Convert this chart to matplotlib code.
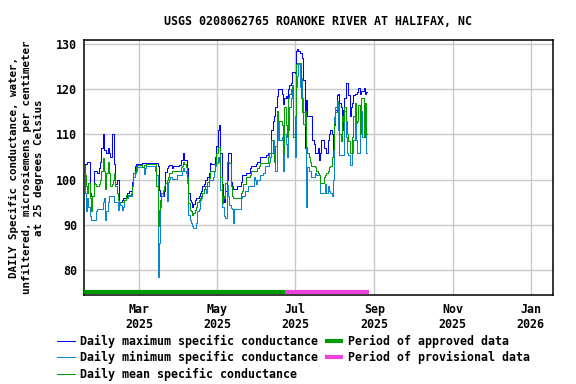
import matplotlib
matplotlib.use("Agg")
import matplotlib.pyplot as plt
import matplotlib.dates as mdates
import pandas as pd
import numpy as np

plt.rcParams['font.family'] = ['DejaVu Sans Mono']
plt.rcParams['font.weight'] = 'bold'

start_date = "2025-01-17"

daily_max = [
    103, 103.5, 103.5, 104, 104, 97, 96.5, 96.5, 102, 102,
    102, 101.5, 102.5, 104, 107, 110, 106.5, 106.5, 106, 107,
    106, 105, 110, 110, 103.5, 99, 100, 100, 95, 95,
    95.5, 96, 96, 96, 97, 97, 97.5, 97.5, 99.5, 101.5,
    103, 103.5, 103.5, 103.5, 103.5, 103.5, 103.8, 103.8, 103.8, 103.8,
    103.8, 103.8, 103.8, 103.8, 103.8, 103.8, 103.8, 103.8, 103, 97.7,
    96.5, 96.5, 96.5, 97.5, 101.7, 102.5, 103, 103.3, 103.3, 102.5,
    103, 103, 103, 103, 103, 103.2, 104.3, 104.3, 106, 104.3,
    104.3, 102.5, 97, 95.5, 95, 94, 94.7, 95.5, 96, 96,
    96.3, 97, 97.5, 98.5, 99, 100, 100, 100.5, 101.5, 103.6,
    103.5, 103.5, 103.5, 105, 107.5, 111, 112, 106, 99, 96,
    95, 97.5, 100, 106, 106, 99.5, 98.5, 98, 98, 98,
    98.5, 98.5, 98.5, 99.5, 101, 101, 101, 101.5, 101.5, 101.5,
    102.5, 103, 103, 103, 103, 103.5, 104, 104, 105, 105,
    105, 105, 105, 105.5, 106, 106, 106, 111, 113, 114,
    116, 118.5, 120, 120, 120, 119, 116.7, 118, 118.5, 118,
    120, 121, 121.5, 123.8, 123.8, 123.5, 128.5, 129, 128.5, 128,
    128, 127, 122, 107, 117.6, 114, 114, 114, 114, 108.8,
    108, 106, 106, 107, 104.3, 106, 108.8, 108.8, 107, 107,
    106, 108.8, 110, 111, 110, 106, 112, 115.4, 118.7, 119,
    117, 116, 111, 115.4, 118, 121.4, 121.4, 118.7, 114, 116,
    117, 118.7, 119, 119, 119.5, 120.2, 119, 119.7, 119.7, 120.2,
    119, 119.5,
]

daily_min = [
    103, 97, 93, 96, 94, 92, 91, 91, 91, 91,
    93, 93.5, 93.5, 93.5, 93.5, 95, 96, 91, 93, 95,
    96.3, 96.3, 96.3, 96.3, 95, 95, 95, 93.4, 95, 94.5,
    93.4, 94, 95.5, 96, 96, 96.3, 96.3, 96.3, 98.5, 100.7,
    101.5, 102, 102.8, 102.8, 102.8, 102.8, 102.8, 101.2, 102.5, 103,
    103, 103, 103, 103, 103, 103, 102, 101, 78.4, 86,
    94, 96.3, 97.7, 98.5, 99.2, 95.2, 99.5, 100.2, 100.7, 100.2,
    100.2, 100.2, 100.2, 101, 101, 101, 101, 102, 102.5, 102,
    101.4, 99.2, 92.3, 91, 90.4, 89.7, 89.3, 89.3, 90.4, 93,
    93.5, 95.5, 96, 97, 98, 98, 97, 98.5, 100, 100,
    100, 100.7, 102, 103, 103.6, 105, 104, 97.7, 94, 94,
    92, 91.5, 98.8, 96.3, 94.5, 93.8, 93.5, 90.4, 93.5, 93.5,
    93.5, 93.5, 93.5, 96, 96.3, 96.3, 97.5, 97.5, 97.5, 98.5,
    98.5, 98.5, 98.5, 100.5, 100, 99, 100, 100, 101, 101,
    101.5, 101.5, 103, 103, 103, 104, 105, 106, 108.7, 106,
    102, 108.7, 113, 108.7, 108.7, 109.4, 102, 110, 108, 105,
    111, 116, 118, 121, 110, 105, 120.4, 123, 125.5, 120.4,
    122.6, 118, 115, 112, 94, 102.8, 102, 102, 100.7, 100.7,
    100.7, 101.5, 101, 101, 101, 97, 97, 97, 97, 99,
    97, 98.5, 97.5, 97, 96.3, 100, 113.8, 116, 117.4, 111,
    105.4, 105.4, 105.4, 105.4, 115.3, 109.4, 106, 105.4, 103.3, 103.3,
    106, 108.7, 113.8, 108.7, 106, 106, 113.8, 115.3, 109.4, 112,
    115, 106,
]

daily_mean = [
    103, 101, 98.5, 97, 99.2, 96, 93, 96.3, 99.2, 99,
    98.5, 98.5, 99, 100, 102, 104.7, 102, 98, 101.4, 104,
    101.4, 98.5, 99, 100, 101.4, 98.5, 97, 95.5, 95, 95,
    95, 95, 95.5, 96.6, 96.6, 96.6, 96.6, 97, 98.5, 101.4,
    102, 102.8, 103.2, 103.2, 103.2, 103.2, 102.8, 103.2, 103.2, 103.5,
    103.5, 103.5, 103.5, 103.5, 103.5, 103.5, 103.5, 98.5, 89.7, 93.4,
    95.5, 97, 97.5, 98.5, 99.2, 100, 100.7, 101.4, 101.4, 102,
    102, 102, 102, 102, 102, 102, 102.8, 103, 104, 103.5,
    102.8, 100.7, 94.8, 93.4, 93, 92.3, 92.7, 93.4, 94, 95,
    95.5, 96, 96.5, 97, 98, 98.5, 98.5, 99.6, 100.3, 102,
    102, 102, 102, 103.5, 105.8, 107.2, 107.2, 100.7, 94.8, 96.3,
    96, 99.2, 104, 104, 103.6, 98.5, 96.3, 96, 96, 96,
    96, 96, 96, 97, 97.5, 99, 99, 100.5, 100.5, 100.5,
    101, 102, 102, 102, 102, 102, 102.5, 103, 103.6, 103.6,
    103.6, 103.6, 103.6, 103.6, 105, 106, 106, 108.7, 106, 104,
    107.5, 115.3, 113, 113, 113, 112, 105.8, 116, 112, 109.4,
    118, 119, 120, 120.4, 109.4, 114, 125.5, 125.8, 125.8, 125.8,
    118, 115, 112.3, 115.3, 107.2, 105.8, 105, 104, 103, 103,
    103, 102.9, 102, 101.5, 101, 99.2, 99.2, 99.2, 100.5, 101,
    101.5, 102, 102.9, 103, 105, 106.5, 112.5, 115, 117, 117,
    110, 108.5, 114, 113, 116, 113, 110, 108.5, 106, 106,
    109.5, 114, 117, 112.5, 113, 116.5, 110, 118, 118, 109.5,
    117, 110,
]

approved_period = ["2025-01-17", "2025-06-23"]
provisional_period = ["2025-06-23", "2025-08-28"]

title = "USGS 0208062765 ROANOKE RIVER AT HALIFAX, NC"
ylabel = "DAILY Specific conductance, water,\nunfiltered, microsiemens per centimeter\nat 25 degrees Celsius"
yticks = [80, 90, 100, 110, 120, 130]

dates = pd.date_range(start_date, periods=len(daily_max), freq="D")

fig = plt.figure(figsize=(5.76, 3.84), dpi=100)
ax = fig.add_axes([84/576, 1-295/384, (553-84)/576, (295-40)/384])

fs = 8.4
ax.plot(dates, daily_max, color="#0000FF", lw=0.75, drawstyle="steps-mid",
        label="Daily maximum specific conductance", zorder=3)
ax.plot(dates, daily_min, color="#0A84CC", lw=0.75, drawstyle="steps-mid",
        label="Daily minimum specific conductance", zorder=3)
ax.plot(dates, daily_mean, color="#009E00", lw=0.75, drawstyle="steps-mid",
        label="Daily mean specific conductance", zorder=4)

bar_y = 75.25
ax.plot(pd.to_datetime(approved_period), [bar_y, bar_y], color="#009900", lw=3,
        solid_capstyle="butt", label="Period of approved data", zorder=5)
ax.plot(pd.to_datetime(provisional_period), [bar_y, bar_y], color="#EE44DD", lw=3,
        solid_capstyle="butt", label="Period of provisional data", zorder=5)

ax.set_xlim(pd.Timestamp("2025-01-17"), pd.Timestamp("2026-01-18 12:00"))
ax.set_ylim(74.5, 130.9)
ax.set_yticks(yticks)
ax.xaxis.set_major_locator(mdates.MonthLocator(bymonth=[1, 3, 5, 7, 9, 11]))
ax.xaxis.set_major_formatter(mdates.DateFormatter("%b\n%Y"))

ax.grid(True, color="#C8C8C8", lw=1.0)
ax.set_axisbelow(True)
ax.tick_params(axis="both", length=0, labelsize=fs)
ax.tick_params(axis="y", pad=5)
ax.tick_params(axis="x", pad=6)
for lab in ax.get_xticklabels() + ax.get_yticklabels():
    lab.set_fontweight("bold")
for sp in ax.spines.values():
    sp.set_linewidth(1.1)
    sp.set_color("black")

ax.set_title(title, fontsize=fs, fontweight="bold", pad=11)
ax.set_ylabel(ylabel, fontsize=7.8, fontweight="bold", linespacing=1.32)
ax.yaxis.set_label_coords(-0.085, 0.5)

handles, labels = ax.get_legend_handles_labels()
leg = fig.legend(handles, labels, ncol=2, loc="upper left",
                 bbox_to_anchor=(57/576, 1-335/384), frameon=False,
                 fontsize=fs, handlelength=1.55, handletextpad=0.45,
                 columnspacing=0.55, labelspacing=0.28, borderaxespad=0,
                 borderpad=0)
for t in leg.get_texts():
    t.set_fontweight("bold")

fig.savefig("out.png", dpi=100)
